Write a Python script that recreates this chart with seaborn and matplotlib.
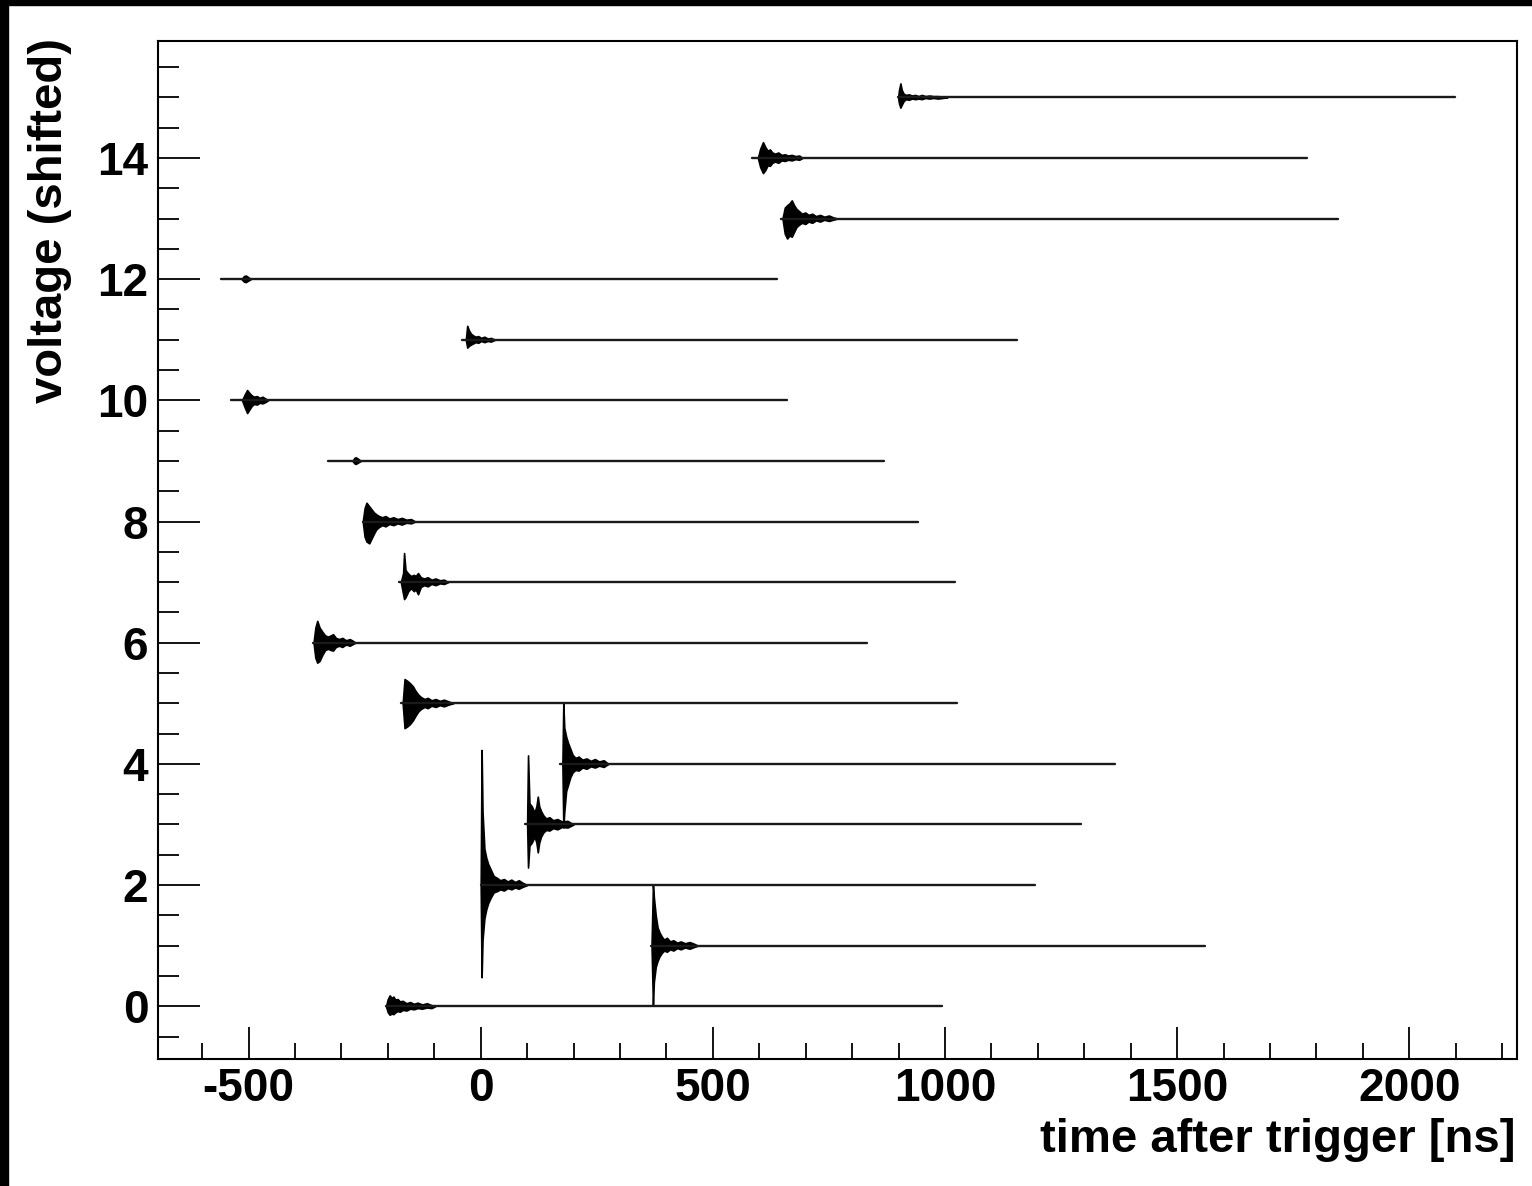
from __future__ import annotations

import matplotlib

matplotlib.use("Agg")

import matplotlib.pyplot as plt
import pandas as pd
import seaborn as sns
from matplotlib.patches import Rectangle
from matplotlib.ticker import MultipleLocator


# vertical shift of each trace (one trace per unit)
offsets = list(range(16))

# time window of each recorded trace [ns]
t_start = [-204, 367, 0, 96, 171, -171, -362, -175, -254, -328, -537, -40, -559, 647, 584, 899]
t_end = [994, 1560, 1194, 1293, 1367, 1026, 832, 1022, 942, 869, 660, 1156, 639, 1847, 1780, 2099]

# pulse envelope of each trace: times [ns], upper and lower excursion [V]
burst_times = [
    [-204, -200, -196, -192, -188, -184, -179, -174, -168, -160, -152, -144, -136, -126, -116, -106, -98],
    [368, 371, 373, 377, 381, 385, 390, 395, 401, 408, 415, 423, 431, 440, 450, 460, 468],
    [0, 2, 4, 8, 12, 16, 22, 28, 35, 42, 50, 58, 66, 74, 82, 90, 100],
    [100, 102, 105, 110, 116, 120, 123, 126, 130, 135, 141, 148, 156, 165, 175, 187, 200],
    [176, 178, 180, 184, 188, 193, 198, 204, 211, 219, 228, 237, 246, 255, 265, 275],
    [-168, -164, -158, -152, -146, -140, -134, -128, -121, -114, -106, -97, -88, -79, -69, -59],
    [-360, -356, -352, -347, -341, -335, -329, -323, -318, -312, -305, -298, -290, -282, -275, -270],
    [-172, -167, -165, -162, -156, -150, -144, -140, -135, -129, -122, -114, -106, -97, -88, -79, -70],
    [-254, -250, -246, -240, -235, -230, -225, -219, -212, -205, -197, -188, -179, -170, -160, -150, -141],
    [-276, -272, -269, -265, -258],
    [-514, -508, -503, -498, -493, -488, -482, -476, -470, -464, -458],
    [-32, -29, -25, -21, -16, -11, -5, 1, 8, 15, 22, 31],
    [-515, -510, -506, -502, -495],
    [650, 655, 660, 665, 670, 675, 680, 686, 692, 699, 706, 714, 722, 731, 740, 750, 759, 768],
    [597, 602, 608, 613, 618, 623, 628, 634, 641, 648, 655, 662, 670, 678, 686, 693],
    [899, 901, 904, 907, 911, 916, 922, 929, 936, 943, 950, 958, 966, 975, 985, 995, 1005],
]
burst_hi = [
    [0, 0.12, 0.18, 0.14, 0.16, 0.11, 0.12, 0.08, 0.09, 0.05, 0.07, 0.04, 0.06, 0.03, 0.05, 0.02, 0],
    [0, 1.0, 0.8, 0.5, 0.3, 0.22, 0.15, 0.1, 0.13, 0.07, 0.09, 0.05, 0.07, 0.04, 0.06, 0.03, 0],
    [0, 2.23, 1.2, 0.6, 0.45, 0.35, 0.25, 0.15, 0.12, 0.08, 0.1, 0.06, 0.09, 0.05, 0.08, 0.04, 0],
    [0, 1.14, 0.35, 0.3, 0.2, 0.3, 0.46, 0.3, 0.22, 0.15, 0.1, 0.12, 0.07, 0.09, 0.05, 0.06, 0],
    [0, 1.0, 0.6, 0.45, 0.35, 0.25, 0.15, 0.1, 0.12, 0.07, 0.09, 0.05, 0.08, 0.04, 0.06, 0],
    [0, 0.4, 0.37, 0.33, 0.28, 0.2, 0.14, 0.1, 0.07, 0.09, 0.05, 0.07, 0.04, 0.06, 0.03, 0],
    [0, 0.25, 0.36, 0.25, 0.18, 0.12, 0.1, 0.12, 0.14, 0.08, 0.06, 0.08, 0.04, 0.06, 0.03, 0],
    [0, 0.15, 0.48, 0.2, 0.14, 0.1, 0.12, 0.1, 0.15, 0.08, 0.06, 0.08, 0.04, 0.06, 0.03, 0.04, 0],
    [0, 0.22, 0.31, 0.25, 0.2, 0.15, 0.12, 0.09, 0.07, 0.09, 0.05, 0.07, 0.04, 0.06, 0.03, 0.04, 0],
    [0, 0.05, 0.06, 0.04, 0],
    [0, 0.1, 0.17, 0.12, 0.08, 0.06, 0.07, 0.04, 0.06, 0.03, 0],
    [0, 0.23, 0.15, 0.1, 0.07, 0.05, 0.06, 0.03, 0.05, 0.02, 0.03, 0],
    [0, 0.05, 0.06, 0.04, 0],
    [0, 0.18, 0.22, 0.25, 0.3, 0.22, 0.16, 0.12, 0.08, 0.1, 0.06, 0.08, 0.04, 0.06, 0.03, 0.05, 0.02, 0],
    [0, 0.15, 0.26, 0.18, 0.12, 0.14, 0.09, 0.07, 0.09, 0.05, 0.06, 0.04, 0.05, 0.03, 0.04, 0],
    [0, 0.12, 0.23, 0.12, 0.06, 0.04, 0.05, 0.03, 0.04, 0.02, 0.04, 0.02, 0.03, 0.02, 0.02, 0.01, 0],
]
burst_lo = [
    [0, -0.1, -0.14, -0.12, -0.13, -0.1, -0.08, -0.09, -0.06, -0.07, -0.04, -0.05, -0.03, -0.04, -0.02, -0.03, 0],
    [0, -0.98, -0.6, -0.35, -0.25, -0.18, -0.12, -0.08, -0.1, -0.06, -0.08, -0.04, -0.06, -0.03, -0.05, -0.02, 0],
    [0, -1.52, -0.9, -0.55, -0.4, -0.3, -0.2, -0.12, -0.1, -0.07, -0.09, -0.05, -0.07, -0.04, -0.06, -0.03, 0],
    [0, -0.71, -0.35, -0.3, -0.2, -0.3, -0.46, -0.3, -0.2, -0.13, -0.09, -0.1, -0.06, -0.08, -0.04, -0.05, 0],
    [0, -1.05, -0.8, -0.45, -0.35, -0.22, -0.14, -0.1, -0.11, -0.06, -0.08, -0.04, -0.06, -0.03, -0.05, 0],
    [0, -0.41, -0.38, -0.34, -0.28, -0.2, -0.13, -0.09, -0.06, -0.08, -0.04, -0.06, -0.03, -0.05, -0.02, 0],
    [0, -0.25, -0.33, -0.3, -0.2, -0.12, -0.1, -0.12, -0.13, -0.07, -0.05, -0.07, -0.03, -0.05, -0.02, 0],
    [0, -0.2, -0.28, -0.25, -0.15, -0.1, -0.15, -0.12, -0.2, -0.08, -0.05, -0.07, -0.03, -0.05, -0.02, -0.03, 0],
    [0, -0.25, -0.33, -0.36, -0.28, -0.2, -0.13, -0.09, -0.06, -0.08, -0.04, -0.06, -0.03, -0.05, -0.02, -0.03, 0],
    [0, -0.04, -0.05, -0.03, 0],
    [0, -0.12, -0.21, -0.15, -0.09, -0.06, -0.07, -0.04, -0.05, -0.03, 0],
    [0, -0.13, -0.1, -0.08, -0.06, -0.04, -0.05, -0.02, -0.04, -0.02, -0.03, 0],
    [0, -0.04, -0.05, -0.03, 0],
    [0, -0.25, -0.33, -0.28, -0.3, -0.22, -0.14, -0.1, -0.07, -0.09, -0.05, -0.07, -0.03, -0.05, -0.02, -0.04, -0.02, 0],
    [0, -0.15, -0.25, -0.2, -0.12, -0.13, -0.08, -0.06, -0.08, -0.04, -0.05, -0.03, -0.04, -0.02, -0.03, 0],
    [0, -0.1, -0.17, -0.12, -0.06, -0.03, -0.04, -0.02, -0.03, -0.02, -0.03, -0.01, -0.02, -0.01, -0.02, -0.01, 0],
]

x_ticks = [-500, 0, 500, 1000, 1500, 2000]
y_ticks = [0, 2, 4, 6, 8, 10, 12, 14]


def build_baselines() -> pd.DataFrame:
    rows = []
    for off, t0, t1 in zip(offsets, t_start, t_end):
        rows.append({"trace": off, "t": t0, "v": off})
        rows.append({"trace": off, "t": t1, "v": off})
    return pd.DataFrame(rows)


sns.set_style("ticks")
plt.rcParams["font.family"] = ["Liberation Sans", "DejaVu Sans"]
plt.rcParams["font.weight"] = "bold"
plt.rcParams["axes.unicode_minus"] = False
plt.rcParams["text.color"] = "black"
plt.rcParams["xtick.color"] = "black"
plt.rcParams["ytick.color"] = "black"
plt.rcParams["xtick.labelcolor"] = "black"
plt.rcParams["ytick.labelcolor"] = "black"

fig = plt.figure(figsize=(15.32, 11.86), dpi=100, facecolor="white")
ax = fig.add_axes([158 / 1532, 1 - 1059 / 1186, (1517 - 158) / 1532, (1059 - 41) / 1186])

sns.lineplot(
    data=build_baselines(), x="t", y="v", units="trace", estimator=None,
    sort=False, color="#1a1a1a", linewidth=1.7, ax=ax, legend=False,
)
for off, bt, hi, lo in zip(offsets, burst_times, burst_hi, burst_lo):
    ax.fill_between(
        bt, [off + v for v in lo], [off + v for v in hi],
        color="black", linewidth=1.2, edgecolor="black",
    )

ax.set_xlim(-695, 2232)
ax.set_ylim(-0.87, 15.93)
ax.set_xticks(x_ticks)
ax.set_yticks(y_ticks)
ax.xaxis.set_minor_locator(MultipleLocator(100))
ax.yaxis.set_minor_locator(MultipleLocator(0.5))
ax.set_xlabel("")
ax.set_ylabel("")

for side in ["left", "right", "top", "bottom"]:
    ax.spines[side].set_visible(True)
    ax.spines[side].set_color("black")
    ax.spines[side].set_linewidth(1.5)

ax.tick_params(axis="x", which="major", direction="in", length=23, width=1.3, pad=6,
               labelsize=33, top=False, colors="black")
ax.tick_params(axis="x", which="minor", direction="in", length=11.5, width=1.3, top=False,
               colors="black")
ax.tick_params(axis="y", which="major", direction="in", length=30, width=1.3, pad=7,
               labelsize=33, right=False, colors="black")
ax.tick_params(axis="y", which="minor", direction="in", length=15, width=1.3, right=False,
               colors="black")
for lab in ax.get_xticklabels() + ax.get_yticklabels():
    lab.set_fontweight("bold")

fig.text(1515 / 1532, 1 - 1140 / 1186, "time after trigger [ns]", ha="right", va="center",
         fontsize=34, fontweight="bold", color="black")
fig.text(50 / 1532, 1 - 38 / 1186, "voltage (shifted)", ha="center", va="top", rotation=90,
         fontsize=34, fontweight="bold", color="black")

# dark strips along the top and left edges of the original image
fig.patches.append(Rectangle((0, 1 - 5 / 1186), 1, 5 / 1186, transform=fig.transFigure,
                             color="black", zorder=10))
fig.patches.append(Rectangle((0, 0), 8 / 1532, 1, transform=fig.transFigure,
                             color="black", zorder=10))

fig.savefig("out.png", dpi=100, facecolor="white")
plt.close(fig)
